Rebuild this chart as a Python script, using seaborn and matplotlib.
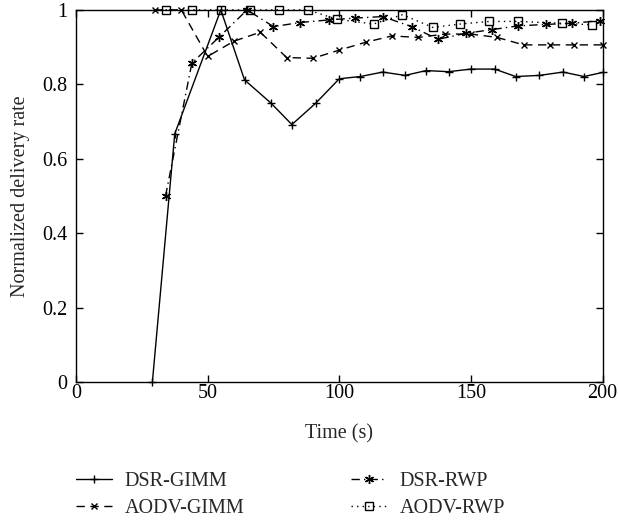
import numpy as np
import pandas as pd
import seaborn as sns
import matplotlib
matplotlib.use("Agg")
import matplotlib.pyplot as plt
from matplotlib.lines import Line2D

# Simulation time (s) and normalized delivery rate for each protocol / mobility model
dsr_gimm_t = [29, 37.5, 55, 64, 74, 82, 91, 100, 108, 116.5, 125, 133, 141.5, 150, 159, 167, 176, 185, 193, 200]
dsr_gimm_v = [0.0, 0.667, 1.0, 0.812, 0.75, 0.692, 0.749, 0.815, 0.821, 0.833, 0.824, 0.837, 0.834, 0.841, 0.841, 0.821, 0.824, 0.833, 0.821, 0.832]

aodv_gimm_t = [30, 40, 50, 60, 70, 80, 90, 100, 110, 120, 130, 140, 150, 160, 170, 180, 189, 200]
aodv_gimm_v = [1.0, 1.0, 0.875, 0.916, 0.94, 0.872, 0.87, 0.892, 0.913, 0.93, 0.926, 0.935, 0.935, 0.926, 0.906, 0.906, 0.906, 0.906]

dsr_rwp_t = [34, 44, 54.5, 65, 75, 85, 96, 106, 116.5, 127.5, 137.5, 148, 158, 168, 178.5, 188.5, 199]
dsr_rwp_v = [0.5, 0.857, 0.928, 1.0, 0.955, 0.966, 0.973, 0.978, 0.982, 0.955, 0.921, 0.937, 0.947, 0.957, 0.961, 0.964, 0.971]

aodv_rwp_t = [34, 44, 55, 66, 77, 88, 99, 113, 124, 135.5, 146, 157, 168, 184.5, 196]
aodv_rwp_v = [1.0, 1.0, 1.0, 1.0, 1.0, 1.0, 0.975, 0.962, 0.987, 0.953, 0.962, 0.969, 0.969, 0.964, 0.96]

series_names = ["DSR-GIMM", "AODV-GIMM", "DSR-RWP", "AODV-RWP"]
x_ticks = [0, 50, 100, 150, 200]
y_ticks = [0, 0.2, 0.4, 0.6, 0.8, 1]
y_tick_labels = ["0", "0.2", "0.4", "0.6", "0.8", "1"]

FS = 14.5

sns.set_theme(style="ticks")
plt.rcParams["font.family"] = ["Liberation Serif", "DejaVu Serif"]
plt.rcParams["font.size"] = FS

fig = plt.figure(figsize=(6.18, 5.2), dpi=100)
ax = fig.add_axes([0.123, 0.265, 0.852, 0.716])

styles = {
    "DSR-GIMM": dict(linestyle="-", marker="+", markersize=6),
    "AODV-GIMM": dict(linestyle=(0, (6, 4)), marker="x", markersize=5),
    "DSR-RWP": dict(linestyle=(0, (6, 3, 1, 3)), marker=(6, 2, 0), markersize=6.5),
    "AODV-RWP": dict(linestyle=(0, (1, 3)), marker="s", markersize=5.5),
}
data = {
    "DSR-GIMM": (dsr_gimm_t, dsr_gimm_v),
    "AODV-GIMM": (aodv_gimm_t, aodv_gimm_v),
    "DSR-RWP": (dsr_rwp_t, dsr_rwp_v),
    "AODV-RWP": (aodv_rwp_t, aodv_rwp_v),
}

for name in series_names:
    t, v = data[name]
    df = pd.DataFrame({"Time": t, "Rate": v})
    st = styles[name]
    sns.lineplot(data=df, x="Time", y="Rate", ax=ax, color="black", linewidth=1.0,
                 linestyle=st["linestyle"], marker=st["marker"], markersize=st["markersize"],
                 markerfacecolor="none", markeredgecolor="black",
                 markeredgewidth=1.0, clip_on=False, estimator=None, sort=False)

ax.set_xlim(0, 200)
ax.set_ylim(0, 1)
ax.set_xticks(x_ticks)
ax.set_yticks(y_ticks)
ax.set_yticklabels(y_tick_labels)
ax.tick_params(direction="in", length=5, width=1, top=True, right=True,
               labelsize=FS, colors="black")
ax.tick_params(axis="x", pad=1.5)
ax.tick_params(axis="y", pad=6)
for sp in ax.spines.values():
    sp.set_linewidth(1.0)
    sp.set_color("black")
ax.set_xlabel("Time (s)", fontsize=FS, labelpad=15)
ax.set_ylabel("Normalized delivery rate", fontsize=FS, labelpad=9)

handles = {}
for name in series_names:
    st = styles[name]
    handles[name] = Line2D([], [], color="black", linewidth=1.0, linestyle=st["linestyle"],
                           marker=st["marker"], markersize=st["markersize"],
                           markerfacecolor="none", markeredgecolor="black")

legend_kw = dict(loc="upper left", frameon=False, fontsize=FS, handlelength=1.8,
                 labelspacing=0.4, borderaxespad=0, borderpad=0, handletextpad=0.6)
leg1 = fig.legend([handles["DSR-GIMM"], handles["AODV-GIMM"]], ["DSR-GIMM", "AODV-GIMM"],
                  bbox_to_anchor=(0.123, 0.092), **legend_kw)
leg2 = fig.legend([handles["DSR-RWP"], handles["AODV-RWP"]], ["DSR-RWP", "AODV-RWP"],
                  bbox_to_anchor=(0.568, 0.092), **legend_kw)

fig.savefig("out.png", dpi=100)
